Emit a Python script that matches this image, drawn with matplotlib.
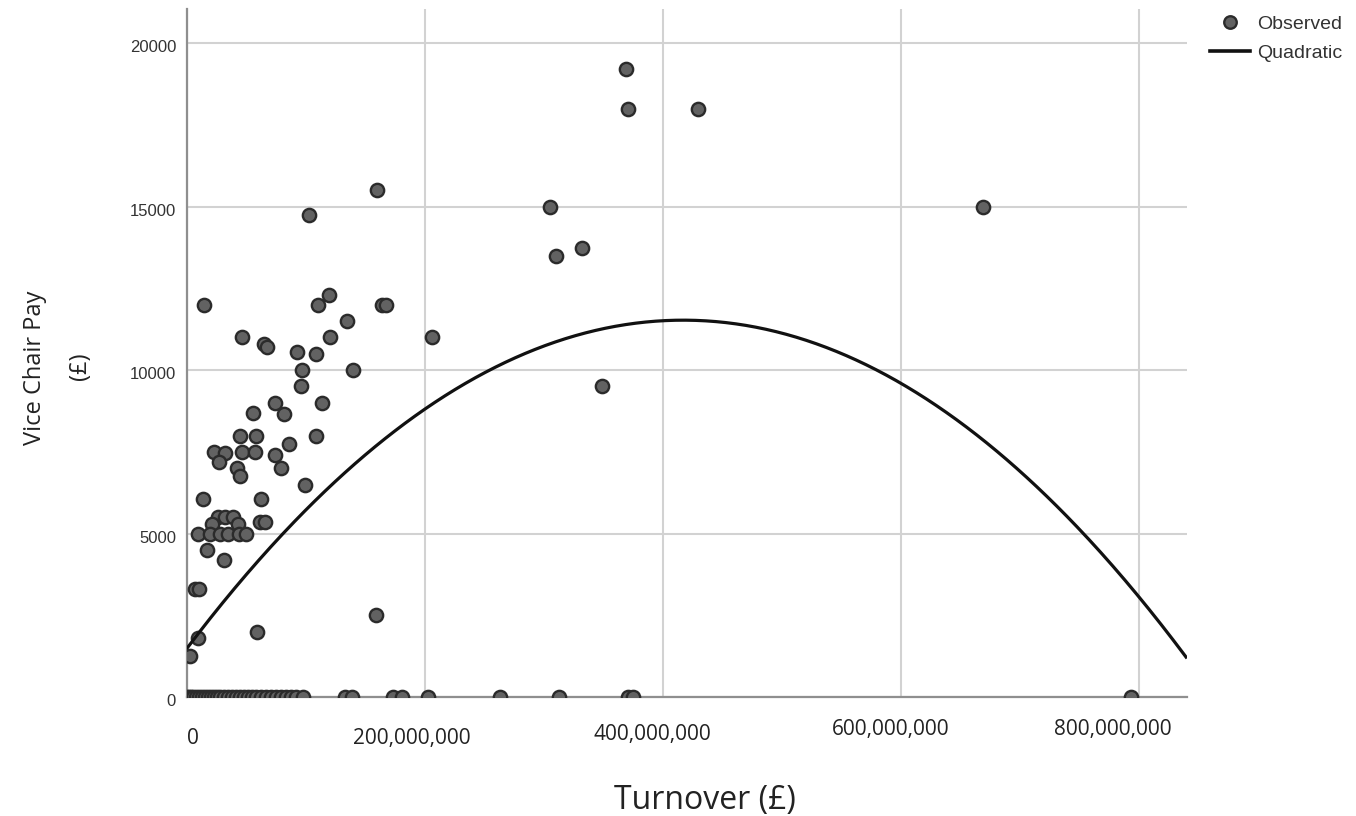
import matplotlib
matplotlib.use("Agg")
import matplotlib.pyplot as plt
import matplotlib.transforms as mtransforms
from matplotlib.lines import Line2D
import numpy as np

# ---------------- data (turnover in £ millions, pay in £) ----------------
obs_turnover_m = [
    15.0, 160.1, 102.9, 369.3, 371.0, 429.8, 305.4, 669.3, 310.5, 332.3,
    349.2, 206.0, 159.2, 59.5, 46.4, 65.4, 67.9, 92.6, 108.8, 110.5,
    119.7, 164.3, 167.7, 135.1, 120.6, 97.3, 139.7, 96.0, 74.1, 113.6,
    55.6, 81.7, 45.0, 58.2, 108.8, 85.9, 23.4, 32.1, 27.6, 46.6,
    57.8, 74.4, 79.4, 42.2, 45.0, 99.8, 14.1, 62.6, 61.8, 66.0,
    26.7, 32.4, 39.3, 21.2, 43.5, 9.9, 19.7, 28.2, 35.1, 44.4,
    50.0, 17.0, 31.8, 7.1, 10.5, 9.9, 2.9,
]
obs_pay = [
    12000, 15500, 14750, 19200, 18000, 18000, 15000, 15000, 13500, 13750,
    9500, 11000, 2500, 2000, 11000, 10800, 10700, 10550, 10500, 12000,
    12300, 12000, 12000, 11500, 11000, 10000, 10000, 9500, 9000, 9000,
    8700, 8650, 8000, 8000, 8000, 7750, 7500, 7450, 7200, 7500,
    7500, 7400, 7000, 7000, 6750, 6500, 6050, 6050, 5350, 5350,
    5500, 5500, 5500, 5300, 5300, 5000, 5000, 5000, 5000, 5000,
    5000, 4500, 4200, 3300, 3300, 1800, 1250,
]
zero_turnover_m = [
    0.4, 2.0, 3.8, 5.5, 8.0, 10.5, 13.0, 15.5, 18.0, 20.6,
    23.0, 25.6, 28.0, 31.5, 34.9, 38.0, 41.6, 45.0, 48.3, 51.7,
    55.0, 58.4, 62.6, 66.8, 71.0, 75.0, 79.4, 83.6, 87.8, 92.0,
    98.0, 133.0, 139.0, 173.5, 181.0, 203.0, 263.5, 313.0, 371.0, 375.0,
    793.7,
]
zero_pay = [0] * len(zero_turnover_m)

# quadratic fit: pay = b0 + b1*x + b2*x^2  (x in £)
quad_coef = [1470.0, 4.82e-5, -5.774e-14]

x_ticks = [0, 200e6, 400e6, 600e6, 800e6]
x_tick_labels = ["0", "200,000,000", "400,000,000", "600,000,000", "800,000,000"]
y_ticks = [0, 5000, 10000, 15000, 20000]
y_tick_labels = ["0", "5000", "10000", "15000", "20000"]

# ---------------- figure ----------------
fig = plt.figure(figsize=(13.56, 8.16), dpi=100)
ax = fig.add_axes([186.5 / 1356, 1 - 697 / 816, (1187 - 186.5) / 1356, (697 - 9.3) / 816])

x_all = np.array(obs_turnover_m + zero_turnover_m) * 1e6
y_all = np.array(obs_pay + zero_pay, dtype=float)

ax.scatter(x_all, y_all, s=92, c="#626262", edgecolors="#2b2b2b",
           linewidths=1.7, zorder=3)

xmax = 840.7e6
xs = np.linspace(0, xmax, 500)
ys = quad_coef[0] + quad_coef[1] * xs + quad_coef[2] * xs ** 2
ax.plot(xs, ys, color="#111111", lw=2.3, zorder=4, solid_capstyle="butt")

ax.set_xlim(0, xmax)
ax.set_ylim(0, 21040)

ax.grid(True, color="#d2d2d2", lw=1.5, zorder=0)
ax.set_axisbelow(True)
for s in ["top", "right"]:
    ax.spines[s].set_visible(False)
for s in ["left", "bottom"]:
    ax.spines[s].set_color("#8f8f8f")
    ax.spines[s].set_linewidth(1.6)

ax.set_xticks(x_ticks)
ax.set_xticklabels(x_tick_labels, fontfamily="Open Sans", fontsize=15, color="#222222")
ax.set_yticks(y_ticks)
ax.set_yticklabels(y_tick_labels, fontfamily="Liberation Sans", fontsize=12, color="#333333")
ax.tick_params(axis="both", length=0)
ax.tick_params(axis="x", pad=22.5)
ax.tick_params(axis="y", pad=7.5)

# per-label offsets (pixels) to mimic the reference placement
x_offsets = [(6.5, 0), (-13, 0), (-10, -4), (-9.5, -9), (-26, -9)]
for lab, (dx, dy) in zip(ax.get_xticklabels(), x_offsets):
    lab.set_transform(lab.get_transform() +
                      mtransforms.ScaledTranslation(dx / 100, -dy / 100, fig.dpi_scale_trans))
for lab in ax.get_yticklabels():
    lab.set_transform(lab.get_transform() +
                      mtransforms.ScaledTranslation(0, -3 / 100, fig.dpi_scale_trans))

# axis titles
fig.text(35 / 1356, 1 - 368 / 816, "Vice Chair Pay", rotation=90, ha="center", va="center",
         fontfamily="Open Sans", fontsize=17, color="#222222")
fig.text(80 / 1356, 1 - 366 / 816, "(£)", rotation=90, ha="center", va="center",
         fontfamily="Open Sans", fontsize=17, color="#222222")
fig.text(705 / 1356, 1 - 800 / 816, "Turnover (£)", ha="center", va="center",
         fontfamily="Open Sans", fontsize=23, color="#222222")

# legend
handles = [
    Line2D([], [], ls="none", marker="o", markersize=9, markerfacecolor="#626262",
           markeredgecolor="#2b2b2b", markeredgewidth=1.7),
    Line2D([], [], color="#111111", lw=2.6),
]
leg = ax.legend(handles, ["Observed", "Quadratic"], loc="upper left",
                bbox_to_anchor=(1210 / 1356, 1 - 15 / 816), bbox_transform=fig.transFigure,
                frameon=False, borderpad=0, borderaxespad=0, handlelength=2.06,
                handletextpad=0.36, labelspacing=0.6,
                prop={"family": "Liberation Sans", "size": 14})
for t in leg.get_texts():
    t.set_color("#333333")

fig.savefig("out.png", dpi=100)
